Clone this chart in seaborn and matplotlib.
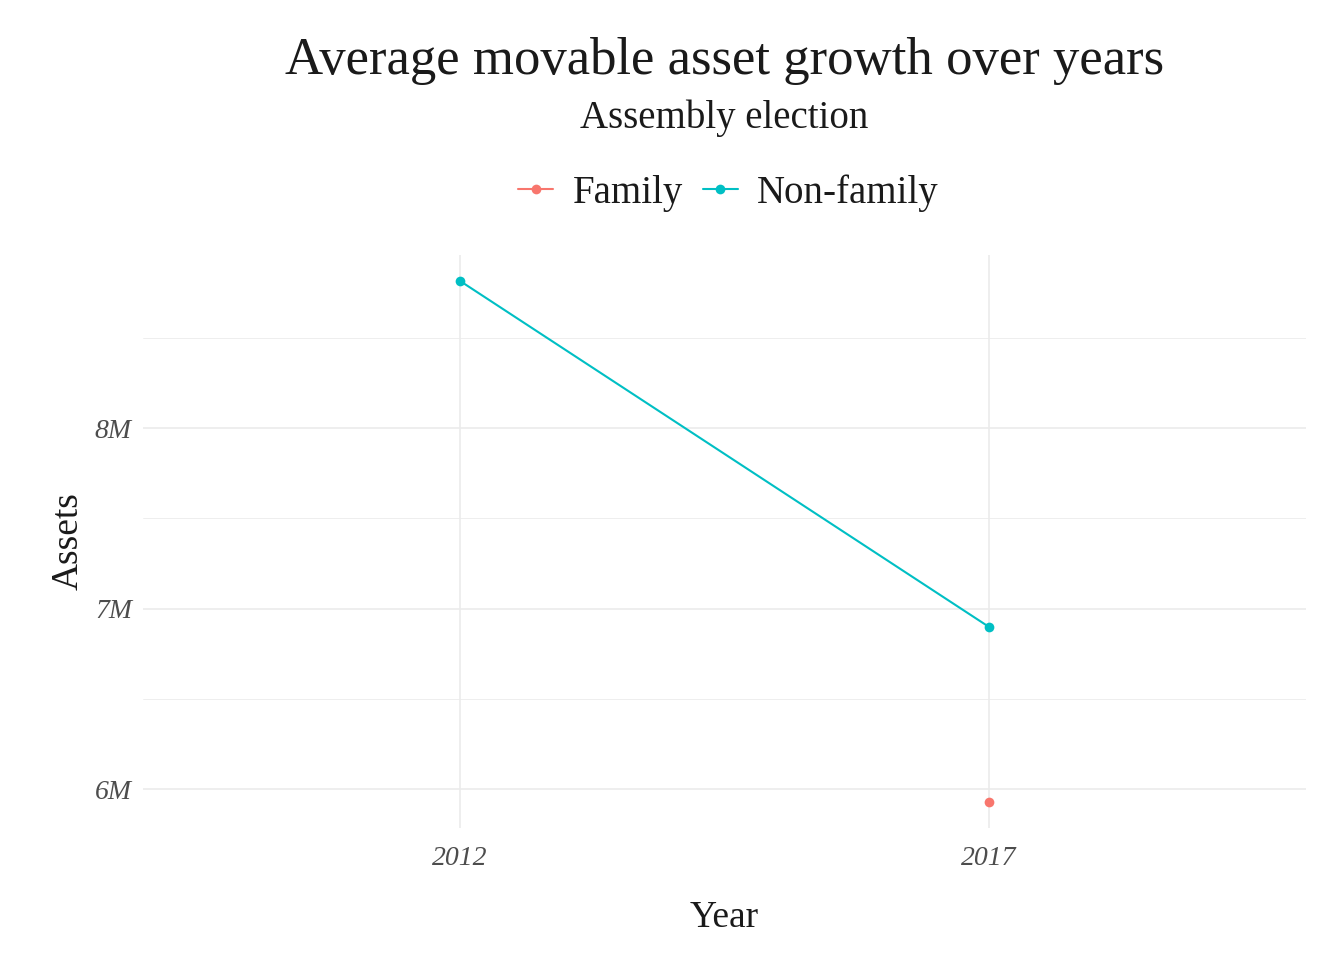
import numpy as np
import pandas as pd
import matplotlib
matplotlib.use("Agg")
import matplotlib.pyplot as plt
import seaborn as sns
from matplotlib.ticker import FuncFormatter, MultipleLocator

# data
years = ["2012", "2017", "2017"]
groups = ["Non-family", "Non-family", "Family"]
assets = [8.815e6, 6.90e6, 5.93e6]

hue_order = ["Family", "Non-family"]
colors = ["#F8766D", "#00BFC4"]

df = pd.DataFrame({"Year": years, "Group": groups, "Assets": assets})
df["Year"] = pd.Categorical(df["Year"], categories=["2012", "2017"], ordered=True)
df["xpos"] = df["Year"].cat.codes

sns.set_theme(style="white")
plt.rcParams["font.family"] = ["Liberation Serif", "DejaVu Serif"]

fig = plt.figure(figsize=(13.44, 9.6), dpi=100)
ax = fig.add_axes([143 / 1344, 1 - 828 / 960, (1306 - 143) / 1344, (828 - 255) / 960])

sns.lineplot(data=df, x="xpos", y="Assets", hue="Group", hue_order=hue_order,
             palette=colors, marker="o", markersize=7, markeredgewidth=0,
             linewidth=1.5, ax=ax, legend=False, zorder=3)

# axis range like ggplot (discrete x, 5% y expansion)
ax.set_xlim(-0.6, 1.6)
lo, hi = min(assets), max(assets)
pad = (hi - lo) * 0.05
ax.set_ylim(lo - pad, hi + pad)

ax.set_xticks([0, 1])
ax.set_xticklabels(["2012", "2017"])
ax.yaxis.set_major_locator(MultipleLocator(1e6))
ax.yaxis.set_minor_locator(MultipleLocator(0.5e6))
ax.yaxis.set_major_formatter(FuncFormatter(lambda v, p: f"{v / 1e6:.0f}M"))

ax.grid(True, which="major", color="#EBEBEB", linewidth=1.2, zorder=0)
ax.grid(True, which="minor", axis="y", color="#EBEBEB", linewidth=0.6, zorder=0)
ax.set_axisbelow(True)
for s in ax.spines.values():
    s.set_visible(False)
ax.tick_params(axis="both", which="both", length=0, labelsize=20, labelcolor="#4D4D4D")
ax.tick_params(axis="x", pad=13)
ax.tick_params(axis="y", pad=8)
for lab in ax.get_xticklabels() + ax.get_yticklabels():
    lab.set_fontstyle("italic")

ax.set_xlabel("Year", fontsize=27, color="#1A1A1A", labelpad=21)
ax.set_ylabel("Assets", fontsize=27, color="#1A1A1A", labelpad=7)

cx = (143 + 1306) / 2 / 1344
fig.text(cx, 1 - 61 / 960, "Average movable asset growth over years", ha="center", va="center",
         fontsize=38, color="#1A1A1A")
fig.text(cx, 1 - 118 / 960, "Assembly election", ha="center", va="center",
         fontsize=28, color="#1A1A1A")

handles = [plt.Line2D([], [], color=c, marker="o", markersize=7, markeredgewidth=0, linewidth=1.5)
           for c in colors]
leg = fig.legend(handles, hue_order, loc="center", bbox_to_anchor=(cx + 4 / 1344, 1 - 193 / 960), ncol=2,
                 frameon=False, fontsize=28, handlelength=0.9, handletextpad=0.5, columnspacing=0.5)
for t in leg.get_texts():
    t.set_color("#1A1A1A")

fig.savefig("out.png", dpi=100, facecolor="white")
